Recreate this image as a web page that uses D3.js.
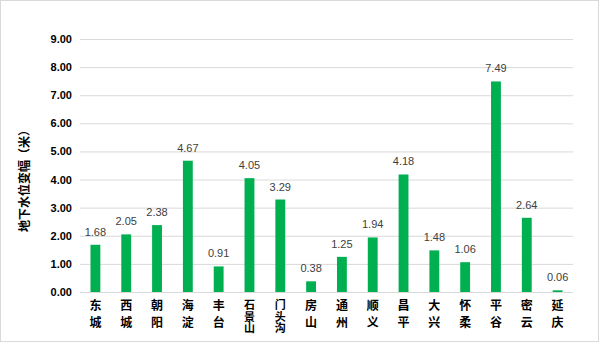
<!DOCTYPE html>
<html><head><meta charset="utf-8">
<script src="https://cdn.jsdelivr.net/npm/d3@7"></script>
<style>body{margin:0;background:#fff}svg{display:block}</style>
</head><body>
<svg id="c" width="600" height="343"></svg>
<script>
const categories = ["东城","西城","朝阳","海淀","丰台","石景山","门头沟","房山","通州","顺义","昌平","大兴","怀柔","平谷","密云","延庆"];
const values = [1.68,2.05,2.38,4.67,0.91,4.05,3.29,0.38,1.25,1.94,4.18,1.48,1.06,7.49,2.64,0.06];
const yTicks = [0,1,2,3,4,5,6,7,8,9];
const yTitle = "地下水位变幅（米）";

const svg = d3.select("#c");
const font = "'Noto Sans CJK SC','Liberation Sans',sans-serif";
svg.append("rect").attr("x",0.5).attr("y",0.5).attr("width",598).attr("height",341)
  .attr("fill","#fff").attr("stroke","#d9d9d9");

const x0 = 80, x1 = 573, y0 = 292, y1 = 39;
const x = d3.scaleBand().domain(categories).range([x0, x1]).paddingInner(0.68).paddingOuter(0.34);
const y = d3.scaleLinear().domain([0, 9]).range([y0, y1]);

const yAxis = svg.append("g").attr("transform", `translate(${x0},0)`)
  .call(d3.axisLeft(y).tickValues(yTicks).tickFormat(d3.format(".2f")).tickSize(-(x1 - x0)).tickPadding(8));
yAxis.select(".domain").remove();
yAxis.selectAll(".tick line").attr("stroke","#d9d9d9").attr("stroke-width",1);
yAxis.selectAll(".tick text").attr("font-family","'Liberation Sans',Arial,sans-serif").attr("font-size",11)
  .attr("font-weight","bold").attr("fill","#000");

svg.append("g").selectAll("rect").data(values).join("rect")
  .attr("x",(d,i)=>x(categories[i])).attr("width",x.bandwidth())
  .attr("y",d=>y(d)).attr("height",d=>y0 - y(d)).attr("fill","#00b050");

svg.append("g").selectAll("text").data(values).join("text")
  .attr("x",(d,i)=>x(categories[i]) + x.bandwidth()/2).attr("y",d=>y(d) - 9)
  .attr("text-anchor","middle").attr("font-family","'Liberation Sans',Arial,sans-serif")
  .attr("font-size",11).attr("fill","#404040").text(d=>d3.format(".2f")(d));

svg.append("g").selectAll("text").data(categories).join("text")
  .attr("x", c => x(c) + x.bandwidth()/2)
  .attr("y", c => Array.from(c).length > 2 ? 299.5 : 299)
  .attr("font-family", font)
  .attr("font-size", c => Array.from(c).length > 2 ? 11 : 12)
  .attr("font-weight", "bold").attr("fill", "#000")
  .style("writing-mode", "vertical-rl")
  .style("letter-spacing", c => Array.from(c).length > 2 ? "0.5px" : "5.5px")
  .text(c => c);

svg.append("text").attr("transform","translate(29,178) rotate(-90)")
  .attr("text-anchor","middle").attr("font-family",font).attr("font-size",12)
  .attr("font-weight","bold").attr("fill","#000").text(yTitle);
</script>
</body></html>
